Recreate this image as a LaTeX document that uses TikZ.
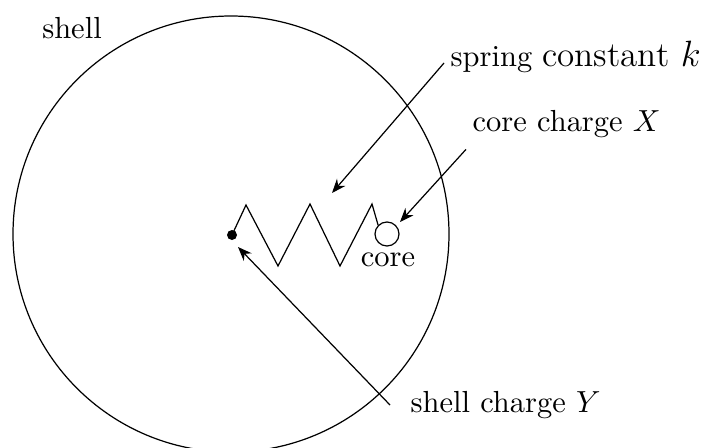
\documentclass[tikz,border=0pt]{standalone}
\usetikzlibrary{arrows.meta}
\begin{document}
\begin{tikzpicture}[x=0.328pt,y=-0.328pt,>={Stealth[length=4.6pt,width=3.6pt,inset=1.5pt]}]
\useasboundingbox (0,0) rectangle (701,447);
\clip (0,0) rectangle (701,447);
\draw (231,234) circle (218);
\node at (72,28){shell};
\fill (232,235) circle (5) coordinate (d);
\node[draw,circle,minimum size=24*0.328pt,inner sep=0pt] (c) at (387,234){};
\node (cl) at (388,260){core};
\draw (d)--(246,205)--(278,266)--(310,204)--(340,266)--(372,204)--(c.north west);
\coordinate (sk) at (332,193);
\coordinate (cx) at (400,222);
\coordinate (sy) at (238,247);
\node[right,inner sep=1pt] (ks) at (447,57){spring {\fontsize{11.5}{13}\selectfont constant \(k\)}};
\node[right,inner sep=1pt] (kx) at (469,124){core charge \(X\)};
\node[right,inner sep=1pt] (ky) at (407,405){shell charge \(Y\)};
\draw[->] ([shift={(-3,6)}]ks.west)--(sk);
\draw[->] ([shift={(-3,8)}]kx.south west)--(cx);
\draw[->] ([shift={(-17,0)}]ky.west)--(sy);
\end{tikzpicture}
\end{document}
